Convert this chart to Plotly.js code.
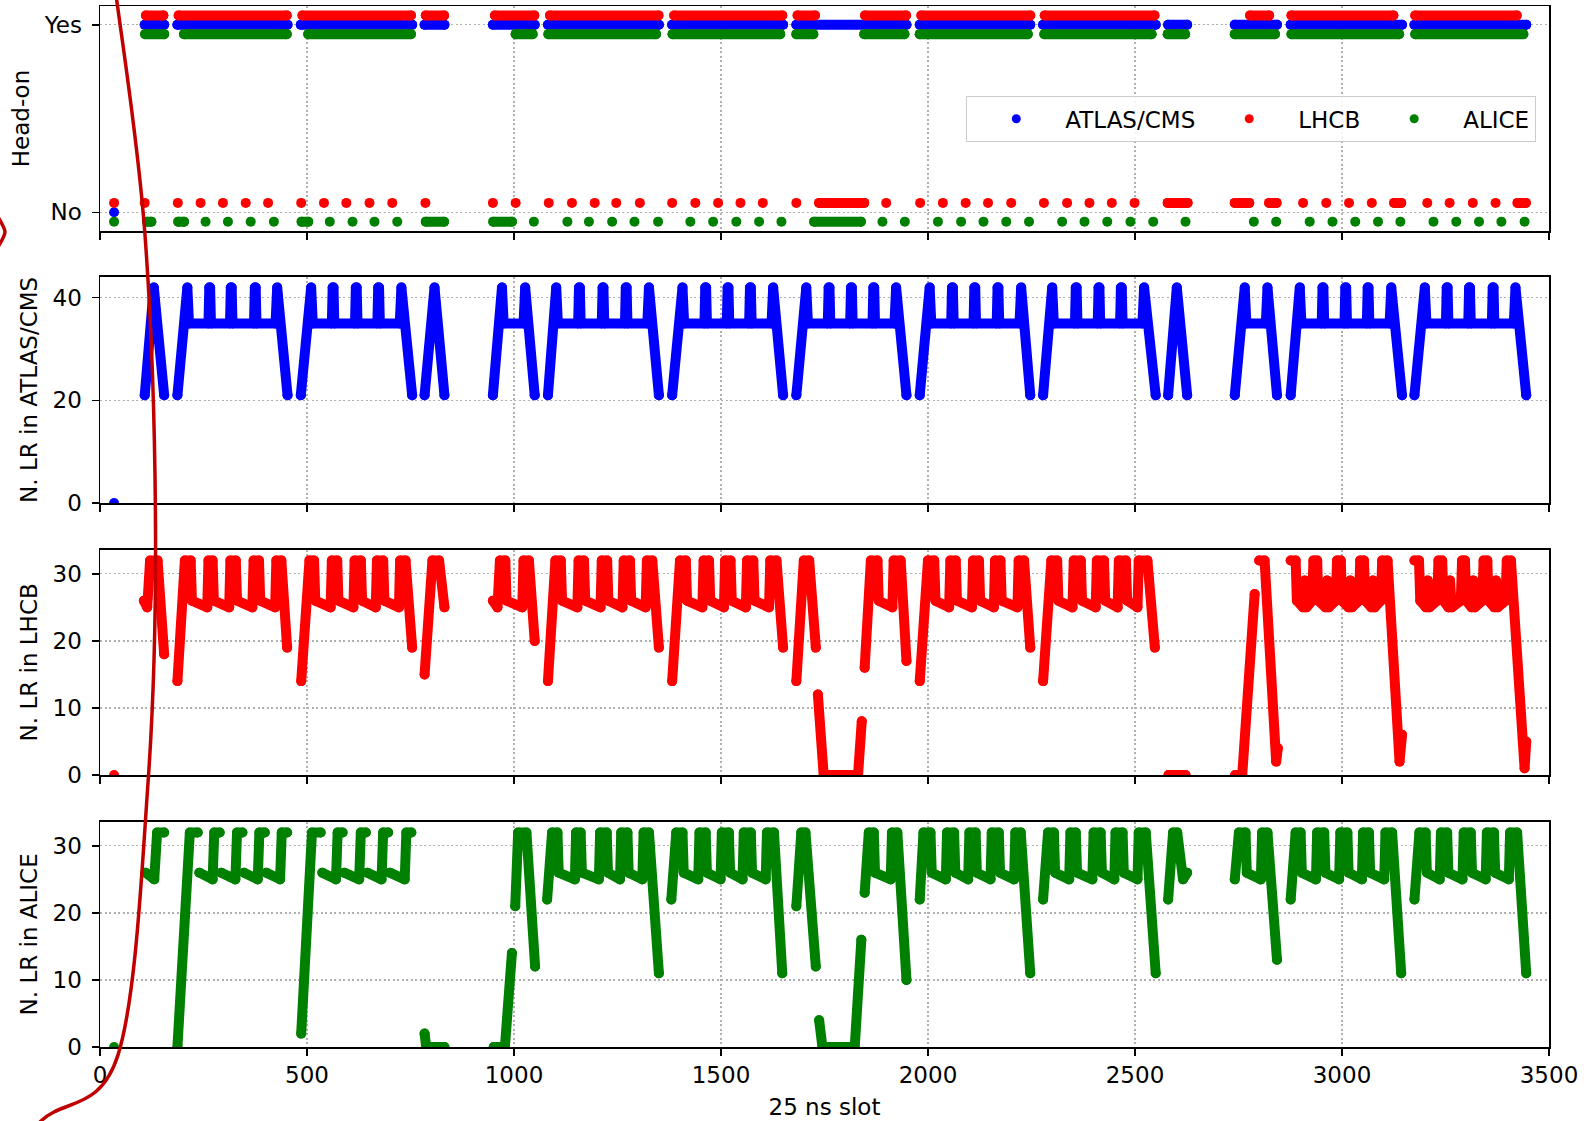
<!DOCTYPE html>
<html><head><meta charset="utf-8">
<script src="https://cdn.plot.ly/plotly-3.0.1.min.js"></script>
<style>
html,body{margin:0;padding:0;background:#fff;}
#chart{width:1591px;height:1121px;}
.scatterlayer .js-line{stroke-linejoin:round!important;stroke-linecap:round!important;}
</style></head><body><div id="chart"></div>
<script>
// ---------------- DATA ----------------
const slotTicks = [0, 500, 1000, 1500, 2000, 2500, 3000, 3500];
const headOnTickVals = [0, 1];
const headOnTickText = ['No', 'Yes'];
const seriesNames = ['ATLAS/CMS', 'LHCB', 'ALICE'];
const seriesColors = ['#0000ff', '#ff0000', '#008000'];
const headOnOffsets = [0, 0.05, -0.05];

// Head-on panel: runs of slots [first, last] with / without head-on collision
const atlasYesRuns = [[108,155],[187,453],[485,754],[784,832],[949,1050],[1082,1350],[1382,1650],[1682,1948],[1980,2247],[2278,2550],[2580,2626],[2741,2843],[2876,3145],[3175,3445]];
const atlasNoRuns = [[34,34]];
const lhcbYesRuns = [[111,153],[190,451],[489,751],[787,831],[954,1049],[1087,1349],[1387,1648],[1685,1727],[1848,1947],[1984,2247],[2282,2547],[2778,2824],[2878,3124],[3177,3422]];
const lhcbNoRuns = [[34,34],[108,108],[188,188],[243,243],[297,297],[352,352],[406,406],[486,486],[541,541],[595,595],[651,651],[706,706],[786,786],[949,949],[1004,1004],[1084,1084],[1140,1140],[1195,1195],[1247,1247],[1304,1304],[1382,1382],[1438,1438],[1493,1493],[1547,1547],[1601,1601],[1682,1682],[1737,1846],[1899,1899],[1981,1981],[2036,2036],[2091,2091],[2145,2145],[2201,2201],[2280,2280],[2336,2336],[2390,2390],[2444,2444],[2499,2499],[2579,2627],[2741,2776],[2824,2842],[2906,2906],[2962,2962],[3017,3017],[3072,3072],[3126,3143],[3206,3206],[3260,3260],[3316,3316],[3371,3371],[3424,3444]];
const aliceYesRuns = [[109,155],[203,451],[503,751],[1004,1045],[1083,1343],[1383,1643],[1682,1723],[1846,1943],[1980,2241],[2281,2540],[2579,2621],[2741,2838],[2878,3138],[3177,3438]];
const aliceNoRuns = [[34,34],[114,124],[189,203],[255,255],[309,309],[364,364],[420,420],[487,503],[555,555],[610,610],[663,663],[718,718],[787,831],[950,995],[1048,1048],[1129,1129],[1181,1181],[1237,1237],[1291,1291],[1348,1348],[1426,1426],[1481,1481],[1537,1537],[1592,1592],[1646,1646],[1725,1838],[1890,1890],[1944,1944],[2024,2024],[2080,2080],[2134,2134],[2189,2189],[2244,2244],[2324,2324],[2378,2378],[2433,2433],[2489,2489],[2544,2544],[2622,2622],[2787,2787],[2841,2841],[2922,2922],[2977,2977],[3032,3032],[3087,3087],[3141,3141],[3221,3221],[3276,3276],[3331,3331],[3385,3385],[3441,3441]];

// Number of long-range encounters: [slot, N. LR] vertices, null = break
const atlasLR = [
 [34,0], null,
 [108,21],[130,42],[155,21], null,
 [187,21],[211,42],[215,35],[262,35],[264,42],[266,42],[268,35],[314,35],[316,42],[318,42],[320,35],[372,35],[374,42],[376,42],[378,35],[424,35],[428,42],[453,21], null,
 [485,21],[510,42],[514,35],[560,35],[562,42],[564,42],[566,35],[616,35],[618,42],[620,42],[622,35],[670,35],[672,42],[674,42],[676,35],[724,35],[728,42],[754,21], null,
 [784,21],[808,42],[832,21], null,
 [949,21],[971,42],[975,35],[1023,35],[1027,42],[1050,21], null,
 [1082,21],[1102,42],[1106,35],[1155,35],[1157,42],[1159,42],[1161,35],[1212,35],[1214,42],[1216,42],[1218,35],[1268,35],[1270,42],[1272,42],[1274,35],[1322,35],[1326,42],[1350,21], null,
 [1382,21],[1407,42],[1411,35],[1460,35],[1462,42],[1464,42],[1466,35],[1514,35],[1516,42],[1518,42],[1520,35],[1568,35],[1570,42],[1572,42],[1574,35],[1622,35],[1626,42],[1650,21], null,
 [1682,21],[1706,42],[1710,35],[1758,35],[1760,42],[1762,42],[1764,35],[1812,35],[1814,42],[1816,42],[1818,35],[1866,35],[1868,42],[1870,42],[1872,35],[1919,35],[1923,42],[1948,21], null,
 [1980,21],[2004,42],[2008,35],[2056,35],[2058,42],[2060,42],[2062,35],[2110,35],[2112,42],[2114,42],[2116,35],[2166,35],[2168,42],[2170,42],[2172,35],[2221,35],[2225,42],[2247,21], null,
 [2278,21],[2300,42],[2304,35],[2355,35],[2357,42],[2359,42],[2361,35],[2410,35],[2412,42],[2414,42],[2416,35],[2464,35],[2466,42],[2468,42],[2470,35],[2518,35],[2522,42],[2550,21], null,
 [2580,21],[2601,42],[2626,21], null,
 [2741,21],[2765,42],[2769,35],[2816,35],[2820,42],[2843,21], null,
 [2876,21],[2898,42],[2902,35],[2951,35],[2953,42],[2955,42],[2957,35],[3006,35],[3008,42],[3010,42],[3012,35],[3060,35],[3062,42],[3064,42],[3066,35],[3115,35],[3119,42],[3145,21], null,
 [3175,21],[3200,42],[3204,35],[3251,35],[3253,42],[3255,42],[3257,35],[3305,35],[3307,42],[3309,42],[3311,35],[3362,35],[3364,42],[3366,42],[3368,35],[3415,35],[3419,42],[3445,21]
];
const lhcbLR = [
 [34,0], null,
 [106,26],[114,25],[121,32],[139,32],[155,18], null,
 [187,14],[205,32],[219,32],[222,26],[259,25],[262,32],[272,32],[275,26],[312,25],[315,32],[328,32],[331,26],[368,25],[371,32],[384,32],[387,26],[423,25],[426,32],[438,32],[452,19], null,
 [486,14],[506,32],[517,32],[520,26],[557,25],[560,32],[573,32],[576,26],[612,25],[615,32],[630,32],[633,26],[666,25],[669,32],[684,32],[687,26],[722,25],[725,32],[738,32],[754,19], null,
 [784,15],[803,32],[819,32],[832,25], null,
 [949,26],[960,25],[966,32],[979,32],[982,26],[1020,25],[1023,32],[1036,32],[1050,20], null,
 [1082,14],[1100,32],[1113,32],[1116,26],[1153,25],[1156,32],[1169,32],[1172,26],[1209,25],[1212,32],[1225,32],[1228,26],[1262,25],[1265,32],[1280,32],[1283,26],[1318,25],[1321,32],[1334,32],[1350,19], null,
 [1382,14],[1401,32],[1415,32],[1418,26],[1455,25],[1458,32],[1471,32],[1474,26],[1507,25],[1510,32],[1523,32],[1526,26],[1560,25],[1563,32],[1578,32],[1581,26],[1616,25],[1619,32],[1634,32],[1650,19], null,
 [1682,14],[1700,32],[1713,32],[1729,19], null,
 [1734,12],[1748,0],[1831,0],[1840,8], null,
 [1847,16],[1862,32],[1878,32],[1881,26],[1914,25],[1917,32],[1934,32],[1948,17], null,
 [1980,14],[2000,32],[2015,32],[2018,26],[2051,25],[2054,32],[2067,32],[2070,26],[2106,25],[2109,32],[2123,32],[2126,26],[2159,25],[2162,32],[2175,32],[2178,26],[2216,25],[2219,32],[2232,32],[2247,19], null,
 [2278,14],[2298,32],[2312,32],[2315,26],[2349,25],[2352,32],[2369,32],[2372,26],[2405,25],[2408,32],[2425,32],[2428,26],[2458,25],[2461,32],[2478,32],[2481,26],[2506,25],[2509,32],[2530,32],[2548,19], null,
 [2581,0],[2622,0], null,
 [2742,0],[2759,0],[2789,27], null,
 [2800,32],[2813,32],[2841,2],[2845,4], null,
 [2876,32],[2888,32],[2891,26],[2906,25],[2910,29],[2914,25],[2928,26],[2931,32],[2940,32],[2943,26],[2960,25],[2964,29],[2968,25],[2985,26],[2988,32],[2997,32],[3000,26],[3016,25],[3020,29],[3024,25],[3041,26],[3044,32],[3053,32],[3056,26],[3071,25],[3075,29],[3079,25],[3094,26],[3097,32],[3110,32],[3139,2],[3145,6], null,
 [3175,32],[3186,32],[3189,26],[3203,25],[3207,29],[3211,25],[3230,26],[3233,32],[3242,32],[3245,26],[3257,25],[3261,29],[3265,25],[3287,26],[3290,32],[3297,32],[3300,26],[3313,25],[3317,29],[3321,25],[3339,26],[3342,32],[3351,32],[3354,26],[3368,25],[3372,29],[3376,25],[3395,26],[3398,32],[3408,32],[3441,1],[3445,5]
];
const aliceLR = [
 [34,0], null,
 [110,26],[131,25],[138,32],[155,32], null,
 [187,0],[217,32],[236,32], null,
 [240,26],[272,25],[276,32],[289,32], null,
 [293,26],[327,25],[331,32],[344,32], null,
 [348,26],[381,25],[385,32],[398,32], null,
 [402,26],[435,25],[439,32],[452,32], null,
 [486,2],[512,32],[533,32], null,
 [537,26],[570,25],[574,32],[586,32], null,
 [590,26],[626,25],[630,32],[642,32], null,
 [646,26],[680,25],[684,32],[696,32], null,
 [700,26],[736,25],[740,32],[752,32], null,
 [784,2],[788,0],[832,0], null,
 [951,0],[978,0],[995,14], null,
 [1003,21],[1010,32],[1030,32],[1051,12], null,
 [1080,22],[1092,32],[1105,32],[1108,26],[1147,25],[1150,32],[1161,32],[1164,26],[1205,25],[1208,32],[1224,32],[1227,26],[1256,25],[1259,32],[1274,32],[1277,26],[1310,25],[1313,32],[1326,32],[1350,11], null,
 [1380,22],[1392,32],[1407,32],[1410,26],[1445,25],[1448,32],[1463,32],[1466,26],[1499,25],[1502,32],[1519,32],[1522,26],[1552,25],[1555,32],[1572,32],[1575,26],[1608,25],[1611,32],[1628,32],[1648,11], null,
 [1682,21],[1694,32],[1704,32],[1729,12], null,
 [1737,4],[1745,0],[1823,0],[1839,16], null,
 [1847,23],[1857,32],[1869,32],[1872,26],[1910,25],[1913,32],[1926,32],[1948,10], null,
 [1980,22],[1989,32],[2006,32],[2009,26],[2043,25],[2046,32],[2063,32],[2066,26],[2097,25],[2100,32],[2115,32],[2118,26],[2151,25],[2154,32],[2171,32],[2174,26],[2208,25],[2211,32],[2224,32],[2247,11], null,
 [2278,22],[2290,32],[2304,32],[2307,26],[2341,25],[2344,32],[2357,32],[2360,26],[2397,25],[2400,32],[2417,32],[2420,26],[2450,25],[2453,32],[2470,32],[2473,26],[2506,25],[2509,32],[2526,32],[2550,11], null,
 [2580,22],[2592,32],[2602,32],[2616,25],[2626,26], null,
 [2741,25],[2751,32],[2767,32],[2770,26],[2804,25],[2807,32],[2820,32],[2843,13], null,
 [2876,22],[2888,32],[2900,32],[2903,26],[2937,25],[2940,32],[2957,32],[2960,26],[2993,25],[2996,32],[3013,32],[3016,26],[3048,25],[3051,32],[3065,32],[3068,26],[3102,25],[3105,32],[3121,32],[3143,11], null,
 [3175,22],[3187,32],[3202,32],[3205,26],[3236,25],[3239,32],[3254,32],[3257,26],[3291,25],[3294,32],[3311,32],[3314,26],[3347,25],[3350,32],[3367,32],[3370,26],[3403,25],[3406,32],[3423,32],[3445,11]
];

// ---------------- BUILD ----------------
const FONT = 'DejaVu Sans, Liberation Sans, sans-serif';
const DOT = 10;
const W = 1591, H = 1121, ML = 100, MR = 42, MT = 6, MB = 74;
const PW = W - ML - MR, PH = H - MT - MB;

function runsXY(yesRuns, noRuns, off) {
  const xs = [], ys = [];
  [[yesRuns, 1 + off], [noRuns, 0 + off]].forEach(([runs, y]) => {
    runs.forEach(r => {
      xs.push(r[0]); ys.push(y);
      if (r[1] !== r[0]) { xs.push(r[1]); ys.push(y); }
      xs.push(null); ys.push(null);
    });
  });
  return [xs, ys];
}
function ptsXY(list) {
  const xs = [], ys = [];
  list.forEach(p => { if (p === null) { xs.push(null); ys.push(null); } else { xs.push(p[0]); ys.push(p[1]); } });
  return [xs, ys];
}
function lineTrace(xy, color, xa, ya) {
  return { x: xy[0], y: xy[1], type: 'scatter', mode: 'lines+markers', xaxis: xa, yaxis: ya,
    line: { color: color, width: DOT }, marker: { color: color, size: DOT },
    showlegend: false, hoverinfo: 'skip' };
}

const traces = [];
const yesRuns = [atlasYesRuns, lhcbYesRuns, aliceYesRuns];
const noRuns = [atlasNoRuns, lhcbNoRuns, aliceNoRuns];
for (let i = 0; i < 3; i++) {
  traces.push(lineTrace(runsXY(yesRuns[i], noRuns[i], headOnOffsets[i]), seriesColors[i], 'x', 'y'));
}
traces.push(lineTrace(ptsXY(atlasLR), seriesColors[0], 'x2', 'y2'));
traces.push(lineTrace(ptsXY(lhcbLR), seriesColors[1], 'x3', 'y3'));
traces.push(lineTrace(ptsXY(aliceLR), seriesColors[2], 'x4', 'y4'));
// legend entries
for (let i = 0; i < 3; i++) {
  traces.push({ x: [null], y: [null], type: 'scatter', mode: 'markers', xaxis: 'x', yaxis: 'y',
    name: seriesNames[i], marker: { color: seriesColors[i], size: 9 }, showlegend: true });
}

function domY(topPx, botPx) { return [(H - MB - botPx) / PH, (H - MB - topPx) / PH]; }
const axCommon = {
  showline: true, linecolor: 'black', linewidth: 1.5, mirror: true,
  ticks: 'outside', ticklen: 7, tickwidth: 1.5, tickcolor: 'black',
  showgrid: true, gridcolor: '#b0b0b0', gridwidth: 1.3, griddash: '2px,2.5px',
  zeroline: false, tickfont: { family: FONT, size: 23, color: 'black' }, fixedrange: true
};
function xAxis(anchor, labels) {
  return Object.assign({}, axCommon, { anchor: anchor, domain: [0, 1], range: [0, 3500],
    tickmode: 'array', tickvals: slotTicks, showticklabels: labels, ticklabelstandoff: 0 });
}
function yAxis(anchor, dom, range, extra) {
  return Object.assign({}, axCommon, { anchor: anchor, domain: dom, range: range, ticklabelstandoff: 5 }, extra);
}
const titleFont = { family: FONT, size: 23, color: 'black' };

const layout = {
  width: W, height: H,
  margin: { l: ML, r: MR, t: MT, b: MB },
  paper_bgcolor: 'white', plot_bgcolor: 'white',
  font: { family: FONT, size: 23, color: 'black' },
  showlegend: true,
  legend: { orientation: 'h', x: (1536 - ML) / PW, xanchor: 'right', y: (H - MB - 96) / PH, yanchor: 'top',
    bgcolor: 'rgba(255,255,255,0.85)', bordercolor: '#cccccc', borderwidth: 1.3,
    font: { family: FONT, size: 23, color: 'black' }, itemwidth: 88 },
  xaxis: xAxis('y', false),
  xaxis2: Object.assign(xAxis('y2', false), { matches: 'x' }),
  xaxis3: Object.assign(xAxis('y3', false), { matches: 'x' }),
  xaxis4: Object.assign(xAxis('y4', true), { matches: 'x', title: { text: '25 ns slot', font: titleFont, standoff: 12 } }),
  yaxis: yAxis('x', domY(6, 231), [-0.1, 1.1], { tickmode: 'array', tickvals: headOnTickVals, ticktext: headOnTickText,
    title: { text: 'Head-on', font: titleFont, standoff: 7 } }),
  yaxis2: yAxis('x2', domY(276.7, 503), [0, 44.1], { tickmode: 'array', tickvals: [0, 20, 40],
    title: { text: 'N. LR in ATLAS/CMS', font: titleFont, standoff: 8 } }),
  yaxis3: yAxis('x3', domY(549.7, 775), [0, 33.6], { tickmode: 'array', tickvals: [0, 10, 20, 30],
    title: { text: 'N. LR in LHCB', font: titleFont, standoff: 8 } }),
  yaxis4: yAxis('x4', domY(821.7, 1047), [0, 33.6], { tickmode: 'array', tickvals: [0, 10, 20, 30],
    title: { text: 'N. LR in ALICE', font: titleFont, standoff: 8 } }),
  shapes: []
};

// hand-drawn red ellipse (annotation), defined in page pixels and converted to paper coords
const ellipsePx = [[104,-70],[116.7,0],[145,235],[155.5,525],[148,783],[118,1055],[41,1121],[-20,1190]];
const ellipseTipPx = [[-4,214],[2,224],[5,232],[2,240],[-4,250]];
function toPaper(p) { return [(p[0] - ML) / PW, (H - MB - p[1]) / PH]; }
function smoothPath(pts) {
  const P = pts.map(toPaper);
  let d = 'M ' + P[0][0] + ',' + P[0][1];
  for (let i = 0; i < P.length - 1; i++) {
    const p0 = P[Math.max(0, i - 1)], p1 = P[i], p2 = P[i + 1], p3 = P[Math.min(P.length - 1, i + 2)];
    const c1 = [p1[0] + (p2[0] - p0[0]) / 6, p1[1] + (p2[1] - p0[1]) / 6];
    const c2 = [p2[0] - (p3[0] - p1[0]) / 6, p2[1] - (p3[1] - p1[1]) / 6];
    d += ' C ' + c1[0] + ',' + c1[1] + ' ' + c2[0] + ',' + c2[1] + ' ' + p2[0] + ',' + p2[1];
  }
  return d;
}
[ellipsePx, ellipseTipPx].forEach(pts => {
  layout.shapes.push({ type: 'path', xref: 'paper', yref: 'paper', path: smoothPath(pts), layer: 'above',
    line: { color: '#c00000', width: 3.5 } });
});

Plotly.newPlot('chart', traces, layout, { staticPlot: true, displayModeBar: false });
</script></body></html>
